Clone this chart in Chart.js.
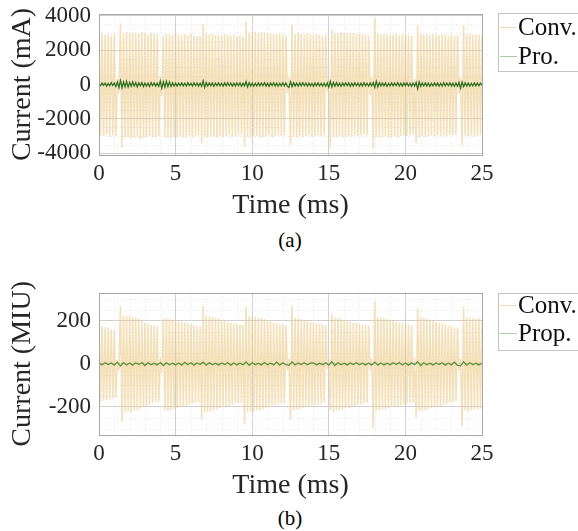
<!DOCTYPE html>
<html>
<head>
<meta charset="utf-8">
<script src="https://cdn.jsdelivr.net/npm/chart.js@4.4.1/dist/chart.umd.min.js"></script>
<style>
html,body{margin:0;padding:0;background:#fff;}
body{width:578px;height:531px;position:relative;overflow:hidden;font-family:"Liberation Serif",serif;}
canvas{position:absolute;left:0;}
.cap{position:absolute;font-family:"Liberation Serif",serif;font-size:21px;color:#000;transform:translate(-50%,-50%);white-space:nowrap;}
</style>
</head>
<body>
<canvas id="ca" width="578" height="225" style="top:0px"></canvas>
<canvas id="cb" width="578" height="227" style="top:278px"></canvas>
<div class="cap" style="left:290px;top:240px">(a)</div>
<div class="cap" style="left:290px;top:518px">(b)</div>
<script>
// sample spacing (ms)
const peakPeriod = 0.2;   // conventional: alternating positive / negative peaks
const proPeriodA = 0.1;
const proPeriodB = 0.2;
const xTicks = [0, 5, 10, 15, 20, 25];
const yTicksA = [-4000, -2000, 0, 2000, 4000];
const yTicksB = [-200, 0, 200];
const labelsA = ['Conv.', 'Pro.'];
const labelsB = ['Conv.', 'Prop.'];

// (a) Conventional current, positive peaks (t = 0, 0.2, ... 25.0 ms), mA
const convAHigh = [
 2900,2950,2880,2920,2850,2900,350,3550,3000,3050,
 2980,3020,3000,2950,3050,2980,2900,3000,2950,2900,
 500,2850,2950,2900,2880,2950,2900,2850,2920,2880,
 2950,2850,2800,2820,3500,2950,2900,2950,2880,2900,
 2850,2920,2880,2850,2900,2820,2850,2800,3650,3000,
 3050,3080,3000,3050,3020,2980,3000,2950,2900,2950,
 2880,2850,400,3500,2950,3000,2950,2900,2980,2950,
 2900,2920,2880,2850,2900,300,3200,3000,2950,3050,
 3000,2980,2950,3000,2920,2950,2900,2880,2850,450,
 3850,2950,2900,2950,2920,2880,2900,2950,2850,2900,
 2880,2850,2820,350,3450,2950,2900,2950,2880,2920,
 2900,2850,2900,2880,2850,2900,2820,2850,400,3450,
 2900,2950,2900,2880,2920,2850];
// (a) Conventional current, negative peaks (t = 0.1, 0.3, ... 24.9 ms), mA
const convALow = [
 -2950,-3000,-2900,-3050,-2950,-3000,-500,-3650,-3100,-3050,
 -3150,-3100,-3050,-3200,-3100,-3050,-3000,-3100,-3050,-3000,
 -700,-3050,-3100,-3150,-3050,-3100,-3000,-3050,-3100,-3000,
 -3050,-3000,-2950,-3440,-3050,-3100,-3000,-3050,-3100,-3000,
 -3050,-3000,-2950,-3050,-3000,-2950,-2900,-3650,-3050,-3100,
 -3050,-3000,-3100,-3050,-3000,-2950,-3050,-3000,-2950,-3000,
 -2950,-500,-3500,-3050,-3100,-3000,-3050,-3000,-2950,-3050,
 -3000,-2950,-3000,-2950,-400,-3700,-3100,-3050,-3000,-3100,
 -3050,-3000,-3050,-2950,-3000,-2950,-2900,-2950,-600,-3700,
 -3050,-3100,-3050,-3000,-3100,-3050,-3000,-3050,-3000,-2950,
 -3000,-2950,-2900,-3400,-3050,-3000,-3050,-3000,-2950,-3000,
 -2950,-3000,-2950,-3000,-2900,-2950,-2900,-500,-3550,-3000,
 -3000,-2950,-3050,-3000,-2950];
// (a) Proposed current (t = 0, 0.1, ... 25.0 ms), mA
const proA = [
 40,-70,90,-50,80,-100,60,-80,110,-60,
 90,-120,150,-180,240,-200,160,-140,190,-150,
 130,-110,160,-90,120,-140,100,-80,110,-120,
 90,-100,80,-110,120,-70,100,-90,80,-110,
 200,-220,170,-150,190,-130,150,-120,100,-90,
 80,-100,90,-70,100,-80,70,-90,110,-60,
 80,-90,100,-70,90,-100,80,-110,210,-170,
 120,-90,100,-80,90,-110,80,-70,100,-90,
 70,-100,90,-80,110,-70,90,-100,80,-90,
 100,-70,90,-110,80,-90,170,-150,110,-90,
 80,-100,70,-90,100,-80,90,-70,110,-90,
 80,-110,90,-70,100,-90,80,-100,70,-90,
 100,-80,90,-110,-170,160,-130,110,-90,80,
 -100,90,-80,110,-70,90,-100,80,-90,70,
 -110,90,-80,100,-90,70,-100,80,-110,90,
 -160,190,-140,120,-100,110,-90,80,-110,90,
 -80,100,-70,90,-110,80,-90,100,-70,90,
 -100,80,-90,110,-80,70,-100,90,-80,120,
 -170,180,-140,110,-90,100,-80,90,-110,70,
 -90,100,-80,90,-70,110,-90,80,-100,90,
 -80,100,-90,70,-110,90,-100,130,-250,160,
 -110,90,-80,100,-90,80,-110,70,-90,100,
 -80,90,-100,70,-90,110,-80,90,-70,100,
 -90,80,-110,90,-100,120,-220,150,-130,100,
 -90,80,-100,70,-90,100,-80,90,-70,80,
 -60];

// (b) Conventional current, positive peaks, MIU
const convBHigh = [
 180,175,170,168,160,155,20,270,225,222,
 220,218,215,210,200,192,185,180,178,175,
 30,210,212,208,205,200,198,195,190,188,
 185,180,176,175,270,222,220,218,215,210,
 205,200,195,190,188,185,182,180,265,222,
 220,218,215,212,208,200,195,190,188,185,
 182,178,25,270,212,210,208,205,200,195,
 190,188,185,182,178,20,230,215,212,210,
 205,200,195,190,188,185,182,180,178,25,
 290,218,215,212,208,205,200,195,190,188,
 185,182,178,30,260,215,212,210,205,200,
 195,190,188,182,178,175,170,168,25,265,
 215,215,212,210,212,208];
// (b) Conventional current, negative peaks, MIU
const convBLow = [
 -178,-172,-170,-165,-160,-155,-30,-270,-225,-220,
 -222,-218,-215,-208,-200,-195,-188,-182,-178,-175,
 -40,-215,-220,-215,-210,-205,-200,-198,-195,-190,
 -185,-182,-178,-260,-225,-222,-220,-215,-210,-205,
 -200,-198,-195,-190,-185,-182,-180,-280,-225,-220,
 -222,-218,-215,-210,-205,-200,-195,-192,-188,-185,
 -180,-30,-260,-215,-212,-210,-205,-200,-198,-195,
 -192,-188,-185,-182,-25,-215,-222,-218,-215,-212,
 -208,-205,-200,-195,-190,-188,-185,-182,-30,-300,
 -215,-218,-212,-210,-205,-200,-198,-195,-192,-188,
 -185,-182,-178,-250,-220,-218,-215,-210,-205,-200,
 -198,-195,-190,-188,-182,-178,-175,-30,-290,-215,
 -218,-215,-212,-210,-208];
// (b) Proposed current (t = 0, 0.2, ... 25.0 ms), MIU
const proB = [
 2,-4,5,-3,4,-6,8,-10,6,-5,
 4,-6,5,-3,6,-8,5,-4,3,-5,
 6,-8,5,-4,3,-5,4,-6,7,-4,
 5,-6,4,-3,8,-6,5,-4,3,-5,
 4,-3,5,-6,4,-5,3,-4,9,-7,
 5,-4,3,-5,6,-4,3,-5,8,-6,
 5,-4,-7,9,-5,4,-3,5,-4,3,
 4,-5,3,-4,5,-6,10,-8,5,-4,
 3,-5,4,-3,5,-4,3,-5,4,-6,
 8,-6,4,-5,3,-4,5,-3,6,-5,
 4,-6,5,-4,10,-8,5,-4,3,-5,
 4,-3,5,-6,4,-5,8,-7,-9,10,
 -6,5,-4,3,-5,4];

function interleave(hi, lo, dt) {
  const pts = [];
  for (let i = 0; i < hi.length; i++) {
    pts.push({x: i * dt, y: hi[i]});
    if (i < lo.length) pts.push({x: i * dt + dt / 2, y: lo[i]});
  }
  return pts;
}
function series(v, dt) { return v.map((y, i) => ({x: i * dt, y})); }

const FONT = "'Liberation Serif', serif";
const convColor = 'rgba(236, 204, 138, 0.6)';

function makeChart(id, opts) {
  const framePlugin = {
    id: 'frame',
    beforeDatasetsDraw(chart) {
      const {ctx, chartArea: a, scales: {x, y}} = chart;
      ctx.save();
      ctx.strokeStyle = '#e8e8e8';
      ctx.lineWidth = 1;
      ctx.setLineDash([1, 2]);
      for (const v of opts.xMinor) {
        const px = Math.round(x.getPixelForValue(v)) + 0.5;
        ctx.beginPath(); ctx.moveTo(px, a.top); ctx.lineTo(px, a.bottom); ctx.stroke();
      }
      for (const v of opts.yMinor) {
        const py = Math.round(y.getPixelForValue(v)) + 0.5;
        ctx.beginPath(); ctx.moveTo(a.left, py); ctx.lineTo(a.right, py); ctx.stroke();
      }
      ctx.restore();
    },
    afterDraw(chart) {
      const {ctx, chartArea: a} = chart;
      ctx.save();
      ctx.strokeStyle = '#a8a8a8';
      ctx.lineWidth = 1;
      ctx.strokeRect(Math.round(a.left) + 0.5, Math.round(a.top) + 0.5, Math.round(a.right - a.left), Math.round(a.bottom - a.top));
      // legend
      const L = opts.legend;
      ctx.fillStyle = '#fff';
      ctx.fillRect(L.x, L.y, 120, L.h);
      ctx.strokeStyle = '#c4c4c4';
      ctx.strokeRect(L.x + 0.5, L.y + 0.5, 120, L.h);
      ctx.font = '25px ' + FONT;
      ctx.textBaseline = 'middle';
      ctx.textAlign = 'left';
      L.items.forEach((it) => {
        ctx.strokeStyle = it.color;
        ctx.beginPath(); ctx.moveTo(L.x + 2, it.y + 0.5); ctx.lineTo(L.x + 19, it.y + 0.5); ctx.stroke();
        ctx.fillStyle = '#111';
        ctx.fillText(it.text, L.x + 20, it.y + 1);
      });
      ctx.restore();
    }
  };
  return new Chart(document.getElementById(id), {
    type: 'line',
    data: {
      datasets: [
        {label: opts.labels[1], data: opts.pro, borderColor: opts.proColor, borderWidth: opts.proWidth, pointRadius: 0, tension: 0, order: 0},
        {label: opts.labels[0], data: opts.conv, borderColor: convColor, borderWidth: 1.6, pointRadius: 0, tension: 0, order: 1}
      ]
    },
    options: {
      responsive: false,
      animation: false,
      devicePixelRatio: 1,
      parsing: false,
      normalized: true,
      layout: {padding: {top: opts.padTop, right: 96, left: 0, bottom: 0}},
      plugins: {legend: {display: false}, tooltip: {enabled: false}},
      scales: {
        x: {
          type: 'linear', min: 0, max: 25,
          afterBuildTicks: s => { s.ticks = xTicks.map(v => ({value: v})); },
          afterFit: s => { s.height = 70; },
          grid: {color: '#d0d0d0', drawTicks: false},
          border: {display: false},
          ticks: {font: {family: FONT, size: 23}, color: '#262626', padding: 5, maxRotation: 0, callback: v => String(v)},
          title: {display: true, text: 'Time (ms)', font: {family: FONT, size: 28}, color: '#262626', padding: {top: 0, bottom: 3}}
        },
        y: {
          type: 'linear', min: opts.yMin, max: opts.yMax,
          afterBuildTicks: s => { s.ticks = opts.yTicks.map(v => ({value: v})); },
          afterFit: s => { s.width = 99; s.paddingTop = 0; s.paddingBottom = 0; },
          grid: {color: '#d0d0d0', drawTicks: false},
          border: {display: false},
          ticks: {font: {family: FONT, size: 23}, color: '#262626', padding: 8, callback: v => String(v)},
          title: {display: true, text: opts.yTitle, font: {family: FONT, size: 28}, color: '#262626', padding: {top: 6, bottom: 0}}
        }
      }
    },
    plugins: [framePlugin]
  });
}

const xMinor = [1,2,3,4,6,7,8,9,11,12,13,14,16,17,18,19,21,22,23,24];
makeChart('ca', {
  labels: labelsA, conv: interleave(convAHigh, convALow, peakPeriod), pro: series(proA, proPeriodA),
  proColor: 'rgb(38, 110, 28)', proWidth: 1.2, yMin: -4100, yMax: 4100, yTicks: yTicksA,
  yTitle: 'Current (mA)', padTop: 14, xMinor,
  yMinor: [-3500,-3000,-2500,-1500,-1000,-500,500,1000,1500,2500,3000,3500],
  legend: {x: 498, y: 13, h: 58, items: [{text: labelsA[0], color: '#f0dcae', y: 27}, {text: labelsA[1], color: '#a9cfa2', y: 56}]}
});
makeChart('cb', {
  labels: labelsB, conv: interleave(convBHigh, convBLow, peakPeriod), pro: series(proB, proPeriodB),
  proColor: 'rgb(95, 145, 60)', proWidth: 1.3, yMin: -330, yMax: 330, yTicks: yTicksB,
  yTitle: 'Current (MIU)', padTop: 14.7, xMinor,
  yMinor: [-300,-250,-150,-100,-50,50,100,150,250,300],
  legend: {x: 498, y: 15, h: 57, items: [{text: labelsB[0], color: '#f0dcae', y: 27}, {text: labelsB[1], color: '#a9cfa2', y: 55}]}
});
</script>
</body>
</html>
